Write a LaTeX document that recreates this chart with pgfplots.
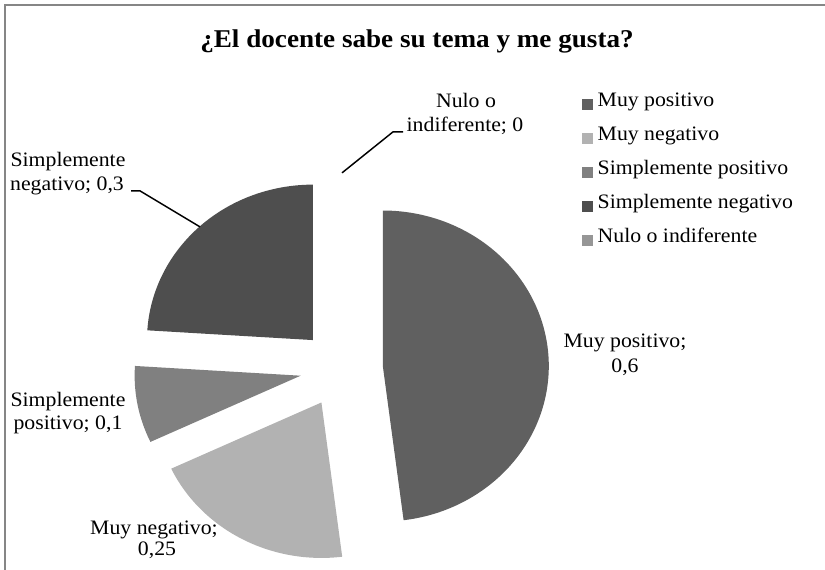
\documentclass[border=0pt]{standalone}
\usepackage{fontspec}
\setmainfont{Liberation Serif}[FakeStretch=1.06]
\usepackage{pgfplots}
\pgfplotsset{compat=1.18}

\definecolor{cMP}{RGB}{96,96,96}
\definecolor{cMN}{RGB}{178,178,178}
\definecolor{cSP}{RGB}{128,128,128}
\definecolor{cSN}{RGB}{78,78,78}
\definecolor{cNI}{RGB}{150,150,150}
\definecolor{frame}{RGB}{134,134,134}

% values
\def\vMP{0.6}
\def\vMN{0.25}
\def\vSP{0.1}
\def\vSN{0.3}
\def\vNI{0}

\newcommand\lab{\fontsize{15.4pt}{18pt}\selectfont}

\begin{document}
\begin{tikzpicture}

\pgfmathsetmacro\tot{\vMP+\vMN+\vSP+\vSN+\vNI}
\pgfmathsetmacro\aA{90}
\pgfmathsetmacro\aB{\aA-360*\vMP/\tot}
\pgfmathsetmacro\aC{\aB-360*\vMN/\tot}
\pgfmathsetmacro\aD{\aC-360*\vSP/\tot}
\pgfmathsetmacro\aE{\aD-360*\vSN/\tot}
% centres of exploded slices (explosion 25 % of radius)
\pgfmathsetmacro\cxA{0.25*cos((\aA+\aB)/2)}\pgfmathsetmacro\cyA{0.25*sin((\aA+\aB)/2)}
\pgfmathsetmacro\cxB{0.25*cos((\aB+\aC)/2)}\pgfmathsetmacro\cyB{0.25*sin((\aB+\aC)/2)}
\pgfmathsetmacro\cxC{0.25*cos((\aC+\aD)/2)}\pgfmathsetmacro\cyC{0.25*sin((\aC+\aD)/2)}
\pgfmathsetmacro\cxD{0.25*cos((\aD+\aE)/2)}\pgfmathsetmacro\cyD{0.25*sin((\aD+\aE)/2)}

\begin{axis}[
  name=ax,
  x=124.5pt, y=116.6pt,
  xmin=-2.0566, xmax=2.9133, ymin=-1.2958, ymax=2.3698,
  hide axis, clip=false,
  legend image code/.code={\fill[#1] (0pt,-2pt) rectangle (8.25pt,6.25pt);},
  legend cell align=left,
  legend style={
    at={(axis description cs:0.70545,0.83807)}, anchor=north west,
    draw=none, fill=none, inner sep=0pt, outer sep=0pt,
    font=\lab, row sep=10.5pt,
    nodes={inner sep=0pt, text height=11pt, text depth=4pt, anchor=base west},
    /tikz/every odd column/.append style={column sep=3.5pt},
  },
]
\addplot[fill=cMP, draw=none, domain=\aB:\aA, samples=120]
  ({\cxA+cos(x)},{\cyA+sin(x)}) -- (axis cs:\cxA,\cyA) -- cycle;
\addlegendentry{Muy positivo}
\addplot[fill=cMN, draw=none, domain=\aC:\aB, samples=80]
  ({\cxB+cos(x)},{\cyB+sin(x)}) -- (axis cs:\cxB,\cyB) -- cycle;
\addlegendentry{Muy negativo}
\addplot[fill=cSP, draw=none, domain=\aD:\aC, samples=40]
  ({\cxC+cos(x)},{\cyC+sin(x)}) -- (axis cs:\cxC,\cyC) -- cycle;
\addlegendentry{Simplemente positivo}
\addplot[fill=cSN, draw=none, domain=\aE:\aD, samples=80]
  ({\cxD+cos(x)},{\cyD+sin(x)}) -- (axis cs:\cxD,\cyD) -- cycle;
\addlegendentry{Simplemente negativo}
\addlegendimage{fill=cNI, draw=none}
\addlegendentry{Nulo o indiferente}
\end{axis}

\pgfresetboundingbox
\path[use as bounding box] (ax.south west) rectangle (ax.north east);

\begin{scope}[shift={(ax.south west)}, x=0.75pt, y=0.75pt]
\draw[frame, line width=1.5pt] (5,-10) -- (5,565) -- (840,565);

% title
\node[anchor=base, font=\fontsize{19.2pt}{23pt}\selectfont\bfseries] at (417,522) {¿El docente sabe su tema y me gusta?};

% data labels
\node[anchor=base, font=\lab] at (466,462) {Nulo o};
\node[anchor=base, font=\lab] at (465,438) {indiferente; 0};
\draw[line width=1.1pt] (403,438) -- (393,438) -- (342,397);

\node[anchor=base, font=\lab] at (68,403) {Simplemente};
\node[anchor=base, font=\lab] at (67,379.5) {negativo; 0,3};
\draw[line width=1.1pt] (131,379) -- (140,379) -- (200,343);

\node[anchor=base, font=\lab] at (625,222) {Muy positivo;};
\node[anchor=base, font=\lab] at (625,197) {0,6};

\node[anchor=base, font=\lab] at (68,163) {Simplemente};
\node[anchor=base, font=\lab] at (68,140) {positivo; 0,1};

\node[anchor=base, font=\lab] at (154,35) {Muy negativo;};
\node[anchor=base, font=\lab] at (157,14) {0,25};
\end{scope}
\end{tikzpicture}
\end{document}
